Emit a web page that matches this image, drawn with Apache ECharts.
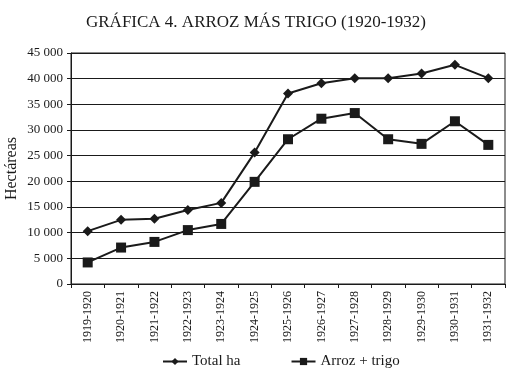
<!DOCTYPE html>
<html><head><meta charset="utf-8">
<script src="https://cdn.jsdelivr.net/npm/echarts@6/dist/echarts.min.js"></script>
<style>html,body{margin:0;padding:0;background:#fff}#c{width:512px;height:375px}</style>
</head><body><div id="c"></div>
<script>
const categories = ['1919-1920','1920-1921','1921-1922','1922-1923','1923-1924','1924-1925','1925-1926','1926-1927','1927-1928','1928-1929','1929-1930','1930-1931','1931-1932'];
const totalHa = [10300, 12500, 12700, 14400, 15800, 25600, 37100, 39100, 40100, 40100, 41000, 42700, 40100];
const arrozTrigo = [4200, 7100, 8200, 10500, 11700, 19900, 28200, 32200, 33300, 28200, 27300, 31700, 27100];
const yTicks = [0, 5000, 10000, 15000, 20000, 25000, 30000, 35000, 40000, 45000];

const font = 'Liberation Serif';
const ink = '#1a1a1a';
const chart = echarts.init(document.getElementById('c'));
chart.setOption({
  animation: false,
  title: {
    text: 'GRÁFICA 4. ARROZ MÁS TRIGO (1920-1932)',
    left: 'center', top: 9,
    textStyle: {fontFamily: font, fontSize: 17, fontWeight: 'normal', color: ink}
  },
  grid: {left: 71, right: 7, top: 53, bottom: 91, show: true, borderColor: ink, borderWidth: 1,
         containLabel: false, outerBoundsMode: 'none'},
  legend: {
    bottom: 1, left: 157, itemGap: 50, itemWidth: 24, itemHeight: 9,
    textStyle: {fontFamily: font, fontSize: 15, color: ink},
    data: ['Total ha', 'Arroz + trigo']
  },
  xAxis: {
    type: 'category', data: categories, boundaryGap: true,
    axisLine: {lineStyle: {color: ink, width: 1}},
    axisTick: {show: true, length: 4, lineStyle: {color: ink}},
    axisLabel: {rotate: 90, fontFamily: font, fontSize: 12, color: ink, margin: 7, interval: 0}
  },
  yAxis: {
    type: 'value', min: 0, max: 45000, interval: 5000,
    name: 'Hectáreas', nameLocation: 'middle', nameGap: 51, nameRotate: 90, nameMoveOverlap: false,
    nameTextStyle: {fontFamily: font, fontSize: 16, color: ink},
    axisLine: {show: true, lineStyle: {color: ink}},
    axisTick: {show: true, length: 4, lineStyle: {color: ink}},
    splitLine: {lineStyle: {color: ink, width: 1}},
    axisLabel: {
      fontFamily: font, fontSize: 13, color: ink, margin: 8,
      formatter: v => yTicks.includes(v) ? (v >= 1000 ? (Math.floor(v/1000) + ' ' + String(v%1000).padStart(3,'0')) : String(v)) : ''
    }
  },
  series: [
    {name: 'Total ha', type: 'line', data: totalHa, symbol: 'diamond', symbolSize: 10,
     lineStyle: {color: ink, width: 2}, itemStyle: {color: ink}},
    {name: 'Arroz + trigo', type: 'line', data: arrozTrigo, symbol: 'rect', symbolSize: 10,
     lineStyle: {color: ink, width: 2}, itemStyle: {color: ink}}
  ]
});
</script></body></html>
